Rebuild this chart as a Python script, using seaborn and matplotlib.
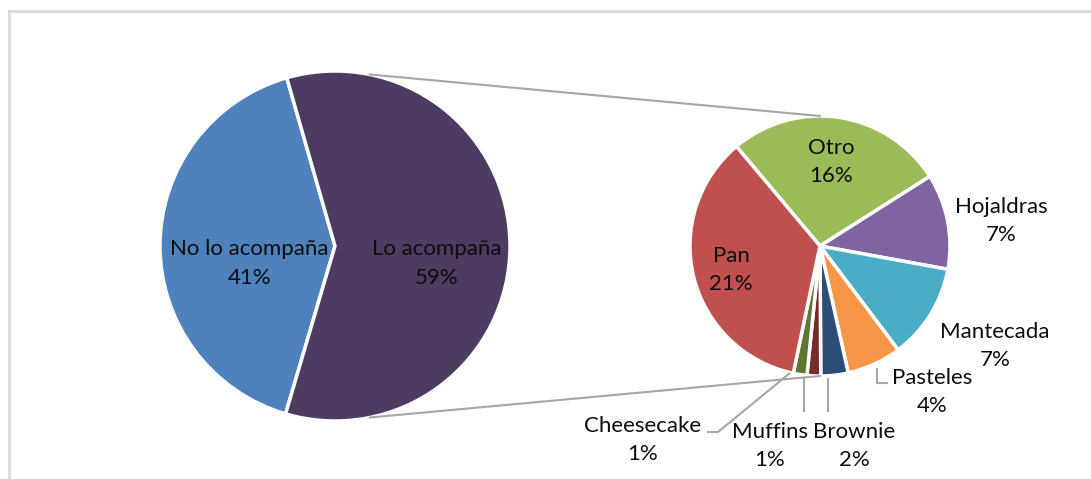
import matplotlib
matplotlib.use("Agg")
import matplotlib.pyplot as plt
import numpy as np
import seaborn as sns

# ---- data ----
main_labels = ["No lo acompaña", "Lo acompaña"]
main_values = [41, 59]
main_colors = ["#4F81BD", "#4E3B62"]

sub_labels = ["Otro", "Hojaldras", "Mantecada", "Pasteles", "Brownie", "Muffins", "Cheesecake", "Pan"]
sub_values = [16, 7, 7, 4, 2, 1, 1, 21]
sub_colors = ["#9BBB59", "#8064A2", "#4BACC6", "#F79646", "#2C4D75", "#772C2A", "#5F7530", "#C0504D"]

sns.set_theme(style="white")
plt.rcParams['font.family'] = ['Lato', 'DejaVu Sans']

W, H = 1091, 479
fig = plt.figure(figsize=(10.91, 4.79), dpi=100)
ax = fig.add_axes([0, 0, 1, 1])


def Y(py):
    return H - py


# geometry (layout)
c1, r1 = (335, Y(246)), 175
c2, r2 = (820, Y(246)), 130
FS = 16
LS = 1.55
TXT = "#0d0d0d"
GREY = "#A6A6A6"

# main pie
ax.pie(main_values, colors=main_colors, startangle=106, counterclock=True,
       center=c1, radius=r1,
       wedgeprops=dict(edgecolor="white", linewidth=2.5))

# sub pie
ax.pie(sub_values, colors=sub_colors, startangle=130, counterclock=False,
       center=c2, radius=r2, explode=[0.015] * len(sub_values),
       wedgeprops=dict(edgecolor="white", linewidth=2.5))

ax.set_xlim(0, W)
ax.set_ylim(0, H)
ax.set_aspect('equal')
ax.axis('off')

total = sum(main_values)

# main labels (offsets in radius units)
main_pos = [(-0.49, -0.10), (0.58, -0.10)]
for lab, v, (fx, fy) in zip(main_labels, main_values, main_pos):
    ax.text(c1[0] + fx * r1, c1[1] + fy * r1, f"{lab}\n{round(v / total * 100)}%",
            ha="center", va="center", fontsize=FS, color=TXT, linespacing=LS)

# sub labels
sub_pos = [(0.085, 0.646), (1.392, 0.192), (1.346, -0.769), (0.862, -1.123),
           (0.262, -1.538), (-0.385, -1.538), (-1.362, -1.492), (-0.685, -0.185)]
for lab, v, (fx, fy) in zip(sub_labels, sub_values, sub_pos):
    ax.text(c2[0] + fx * r2, c2[1] + fy * r2, f"{lab}\n{v}%",
            ha="center", va="center", fontsize=FS, color=TXT, linespacing=LS)

# leader lines
leaders = [
    [(707, 432), (718, 432), (790, 373)],
    [(804, 378), (804, 412)],
    [(828, 378), (828, 412)],
    [(877, 368), (877, 383), (888, 383)],
]
for pts in leaders:
    xs = [p[0] for p in pts]
    ys = [Y(p[1]) for p in pts]
    ax.plot(xs, ys, color=GREY, lw=1.5, solid_capstyle="butt")

# connector lines between pies
a = np.deg2rad(78.6)
for s in (1, -1):
    x0 = c1[0] + r1 * np.cos(a)
    y0 = c1[1] + s * r1 * np.sin(a)
    x1 = c2[0]
    y1 = c2[1] + s * r2
    ax.plot([x0, x1], [y0, y1], color=GREY, lw=1.5)

# chart border
ax.plot([9, 9], [Y(11), 0], color="#D9D9D9", lw=2)
ax.plot([9, W], [Y(11), Y(11)], color="#D9D9D9", lw=2)

fig.savefig("out.png", dpi=100)
